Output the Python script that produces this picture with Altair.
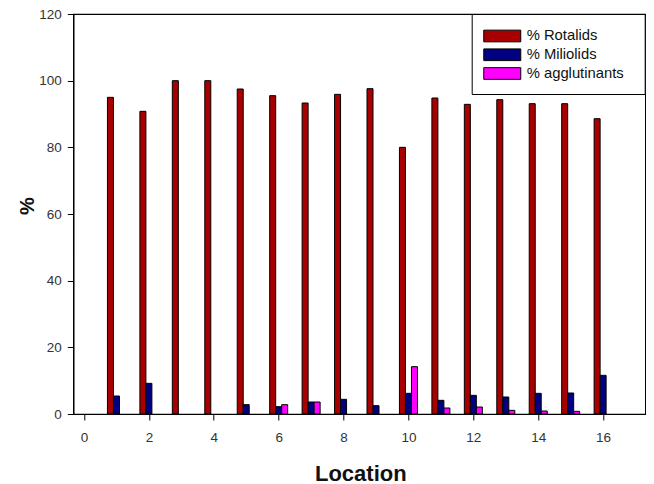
import altair as alt
import pandas as pd

# ---- data ----
locations = list(range(1, 17))
rotalids = [95.0, 90.8, 100.0, 100.0, 97.5, 95.5, 93.3, 95.9, 97.6, 80.0, 94.8, 92.9, 94.3, 93.1, 93.1, 88.6]
miliolids = [5.4, 9.2, 0.0, 0.0, 2.8, 2.2, 3.6, 4.4, 2.5, 6.2, 4.1, 5.6, 5.1, 6.2, 6.3, 11.6]
agglutinants = [0.0, 0.0, 0.0, 0.0, 0.0, 2.8, 3.6, 0.0, 0.0, 14.2, 1.8, 2.1, 1.1, 0.9, 0.8, 0.0]

series_names = ["% Rotalids", "% Miliolids", "% agglutinants"]
series_colors = ["#a80000", "#000080", "#ff00ff"]
x_ticks = list(range(0, 17, 2))
y_ticks = list(range(0, 121, 20))

rows = []
for idx, (name, vals) in enumerate(zip(series_names, [rotalids, miliolids, agglutinants])):
    for loc, v in zip(locations, vals):
        rows.append({"loc": loc, "series": name, "idx": idx, "value": v})
df = pd.DataFrame(rows)

FONT = "Liberation Sans"

bars = (
    alt.Chart(df)
    .transform_filter("datum.value > 0")
    .transform_calculate(xpos="datum.loc + (datum.idx - 1) * 0.185")
    .mark_bar(size=6, stroke="black", strokeWidth=1, orient="vertical")
    .encode(
        x=alt.X(
            "xpos:Q",
            scale=alt.Scale(domain=[-0.33, 17.3], nice=False, zero=False, padding=0),
            axis=alt.Axis(
                values=x_ticks, title="Location", format="d",
                titleX=287, titleY=66, titleBaseline="alphabetic", titleAlign="center",
                titleFontSize=22, labelPadding=10,
            ),
        ),
        y=alt.Y(
            "value:Q",
            scale=alt.Scale(domain=[0, 120], nice=False, padding=0),
            axis=alt.Axis(
                values=y_ticks, title="%",
                titleX=-40.3, titleY=191.5, titleBaseline="alphabetic", titleAlign="center",
                titleAngle=270, titleFontSize=20, labelPadding=6,
            ),
        ),
        color=alt.Color(
            "series:N",
            scale=alt.Scale(domain=series_names, range=series_colors),
            legend=alt.Legend(
                title=None, orient="none", legendX=398.4, legendY=0,
                fillColor="white", strokeColor="black", padding=12,
                symbolType="M-2,-0.632L2,-0.632L2,0.632L-2,0.632Z",
                symbolSize=342.25, symbolStrokeColor="black", symbolStrokeWidth=1,
                symbolOffset=8.55, labelOffset=14.4, labelFont=FONT, labelFontSize=14.8,
                labelColor="#111", rowPadding=0.75, labelLimit=300,
                labelExpr="datum.label + '\u00a0\u00a0\u200b'",
            ),
        ),
    )
)

chart = (
    bars.properties(
        width=572, height=400,
        autosize=alt.AutoSizeParams(type="none"),
        padding={"left": 65.3, "top": 6, "right": 0.7, "bottom": 70},
    )
    .configure_view(stroke="black", strokeWidth=1.2)
    .configure_axis(
        grid=False, domainColor="black", domainWidth=1.2, tickColor="black", tickSize=6,
        labelFont=FONT, labelFontSize=13.5, labelColor="#333",
        titleFont=FONT, titleFontWeight="bold", titleColor="#111",
    )
)

chart.save("out.html", embed_options={"renderer": "svg", "actions": False})
